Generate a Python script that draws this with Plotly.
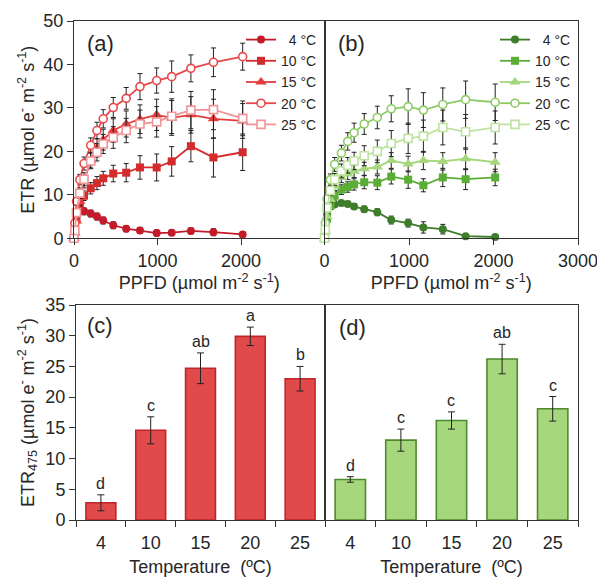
import plotly.graph_objects as go

W, H = 597, 579

# ---- light-response curves (ETR vs PPFD) ----
ppfd = [0, 10, 30, 70, 120, 200, 275, 350, 470, 625, 790, 990, 1170, 1400, 1670, 2020]
temp_labels = ["\u20074 °C", "10 °C", "15 °C", "20 °C", "25 °C"]

# red-light plants
red_4 = [0, 2.0, 5.5, 6.3, 6.2, 5.7, 5.0, 4.1, 3.0, 2.2, 1.8, 1.2, 1.3, 1.7, 1.4, 0.9]
red_4_err = [0, 0.3, 0.6, 0.7, 0.8, 0.8, 0.8, 0.8, 0.8, 0.7, 0.7, 0.7, 0.6, 0.7, 0.8, 0.5]
red_10 = [0, 1.5, 4.5, 7.5, 9.8, 11.5, 12.7, 13.8, 14.9, 15.1, 16.3, 16.3, 17.7, 21.2, 18.6, 19.8]
red_10_err = [0, 0.3, 0.6, 0.9, 1.1, 1.3, 1.5, 1.6, 1.9, 2.1, 2.7, 3.1, 3.4, 3.6, 4.5, 4.2]
red_15 = [0, 1.2, 4.0, 8.5, 13.0, 18.0, 20.8, 22.7, 24.8, 26.3, 27.4, 28.4, 27.7, 28.4, 27.5, 27.0]
red_15_err = [0, 0.3, 0.6, 1.0, 1.4, 1.8, 2.1, 2.4, 2.7, 3.0, 3.3, 3.6, 4.0, 4.2, 4.5, 4.0]
red_20 = [0, 3.5, 8.5, 13.5, 17.2, 21.4, 24.8, 27.5, 30.1, 32.2, 34.9, 36.3, 37.2, 39.1, 40.5, 41.8]
red_20_err = [0, 0.5, 0.9, 1.2, 1.5, 1.7, 1.9, 2.1, 2.3, 2.5, 3.0, 2.9, 3.6, 3.1, 3.3, 3.1]
red_25 = [0, 1.8, 5.9, 10.4, 13.6, 17.8, 19.8, 21.7, 23.2, 24.8, 26.3, 26.8, 28.1, 29.5, 29.6, 27.6]
red_25_err = [0, 0.4, 0.8, 1.2, 1.5, 1.8, 2.0, 2.2, 2.5, 2.8, 3.2, 3.5, 4.0, 4.3, 4.6, 4.0]

# green-light plants
green_4 = [0, 2.0, 5.5, 7.3, 7.8, 8.1, 7.9, 7.3, 6.7, 6.0, 4.2, 3.5, 2.5, 2.1, 0.5, 0.3]
green_4_err = [0, 0.3, 0.5, 0.6, 0.6, 0.6, 0.6, 0.6, 0.7, 0.8, 0.9, 0.9, 1.3, 1.1, 0.3, 0.3]
green_10 = [0, 1.5, 4.5, 7.5, 9.8, 11.2, 11.8, 12.4, 12.9, 12.8, 14.2, 13.5, 12.2, 14.0, 13.6, 14.0]
green_10_err = [0, 0.3, 0.6, 0.8, 1.0, 1.1, 1.2, 1.3, 1.5, 1.6, 1.7, 2.0, 1.5, 2.1, 2.4, 1.9]
green_15 = [0, 1.5, 5.0, 9.0, 12.0, 14.0, 14.8, 15.4, 16.0, 16.4, 17.9, 17.1, 17.9, 17.7, 18.3, 17.5]
green_15_err = [0, 0.3, 0.6, 0.9, 1.0, 1.2, 1.3, 1.4, 1.5, 1.6, 1.8, 1.8, 2.1, 2.0, 2.5, 2.2]
green_20 = [0, 3.5, 9.0, 13.5, 17.0, 19.6, 22.3, 24.3, 26.3, 27.8, 29.8, 30.3, 29.5, 30.8, 31.9, 31.3]
green_20_err = [0, 0.5, 1.0, 1.3, 1.6, 1.8, 2.0, 2.2, 2.4, 2.6, 3.0, 4.1, 4.0, 3.8, 4.3, 4.2]
green_25 = [0, 2.0, 7.0, 11.0, 13.5, 15.5, 16.8, 17.8, 19.0, 20.0, 21.8, 23.0, 23.5, 25.5, 24.5, 25.5]
green_25_err = [0, 0.4, 0.8, 1.2, 1.4, 1.6, 1.8, 2.0, 2.3, 2.6, 3.0, 3.5, 3.7, 4.0, 4.0, 3.8]

# ---- ETR at 475 µmol m-2 s-1 ----
bar_temps = ["4", "10", "15", "20", "25"]
etr475_red = [2.8, 14.6, 24.7, 29.9, 23.0]
etr475_red_err = [1.3, 2.2, 2.5, 1.5, 2.0]
letters_red = ["d", "c", "ab", "a", "b"]
etr475_green = [6.6, 13.0, 16.2, 26.2, 18.1]
etr475_green_err = [0.45, 1.8, 1.4, 2.4, 2.0]
letters_green = ["d", "c", "c", "ab", "c"]

FONT = "Liberation Sans, Arial, sans-serif"
TXT = "#262626"
AX = "#333333"

red_cols = ["#C41A2A", "#D42B2D", "#E23E3E", "#E8484A", "#F09497"]
green_cols = ["#3E7D2A", "#5BAE35", "#A6D77C", "#8DCB66", "#BEE3A0"]
symbols = ["circle", "square", "triangle-up", "circle", "square"]
open_marker = [False, False, False, True, True]


def px_x(p):
    return p / W


def px_y(p):
    return 1 - p / H


fig = go.Figure()

red_series = [(red_4, red_4_err), (red_10, red_10_err), (red_15, red_15_err),
              (red_20, red_20_err), (red_25, red_25_err)]
green_series = [(green_4, green_4_err), (green_10, green_10_err), (green_15, green_15_err),
                (green_20, green_20_err), (green_25, green_25_err)]

for series, cols, xa, ya, leg in [(red_series, red_cols, "x", "y", "legend"),
                                  (green_series, green_cols, "x2", "y2", "legend2")]:
    for i, (vals, errs) in enumerate(series):
        c = cols[i]
        size = 10 if symbols[i] == "triangle-up" else 8
        fig.add_trace(go.Scatter(
            x=ppfd, y=vals, xaxis=xa, yaxis=ya, legend=leg,
            name=temp_labels[i], mode="lines+markers",
            line=dict(color=c, width=1.8),
            marker=dict(symbol=symbols[i], size=size,
                        color="white" if open_marker[i] else c,
                        line=dict(color=c, width=1.6 if open_marker[i] else 0)),
            error_y=dict(type="data", array=errs, visible=True,
                         color="#222222", thickness=1, width=2.5),
            cliponaxis=False,
        ))

for vals, errs, letters, fill, edge, xa, ya in [
        (etr475_red, etr475_red_err, letters_red, "#E04A4A", "#C4232B", "x3", "y3"),
        (etr475_green, etr475_green_err, letters_green, "#A6D77C", "#4E8A2F", "x4", "y4")]:
    fig.add_trace(go.Bar(
        x=bar_temps, y=vals, xaxis=xa, yaxis=ya, width=0.6, showlegend=False,
        marker=dict(color=fill, line=dict(color=edge, width=1.6)),
        error_y=dict(type="data", array=errs, visible=True,
                     color="#222222", thickness=1, width=3.5),
    ))
    # significance letters sit just above each error bar (category index on x)
    for idx, (v, e, s) in enumerate(zip(vals, errs, letters)):
        fig.add_annotation(x=idx, y=v + e, xref=xa, yref=ya, text=s, showarrow=False,
                           yanchor="bottom", yshift=1,
                           font=dict(family=FONT, size=16, color=TXT))

top = [px_y(238.3), px_y(21)]
bot = [px_y(520), px_y(305)]

common = dict(showline=True, linecolor=AX, linewidth=1, mirror=True,
              showgrid=False, zeroline=False, ticks="outside", ticklen=6,
              tickcolor=AX, tickfont=dict(family=FONT, size=18, color=TXT),
              ticklabeloverflow="allow", automargin=False)

ppfd_title = dict(text="PPFD (µmol m<sup>-2</sup> s<sup>-1</sup>)",
                  font=dict(family=FONT, size=18, color=TXT), standoff=4)
temp_title = dict(text="Temperature  (ºC)",
                  font=dict(family=FONT, size=18, color=TXT), standoff=8)

fig.update_layout(
    width=W, height=H, margin=dict(l=0, r=0, t=0, b=0),
    paper_bgcolor="white", plot_bgcolor="white",
    font=dict(family=FONT, color=TXT),
    bargap=0.4,
    xaxis=dict(domain=[px_x(74), px_x(324.5)], anchor="y", range=[0, 3000],
               tickvals=[0, 1000, 2000, 3000], ticktext=["0", "1000", "2000", ""],
               title=ppfd_title, **common),
    yaxis=dict(domain=top, anchor="x", range=[0, 50], dtick=10,
               title=dict(text="ETR (µmol e<sup>-</sup> m<sup>-2</sup> s<sup>-1</sup>)",
                          font=dict(family=FONT, size=18, color=TXT), standoff=4),
               **common),
    xaxis2=dict(domain=[px_x(324.5), px_x(578)], anchor="y2", range=[0, 3000],
                tickvals=[0, 1000, 2000, 3000], title=ppfd_title, **common),
    yaxis2=dict(domain=top, anchor="x2", range=[0, 50], showticklabels=False,
                **{**common, "ticks": ""}),
    xaxis3=dict(domain=[px_x(76), px_x(325)], anchor="y3", type="category",
                range=[-0.5, 4.5], tickson="boundaries", ticklabelstandoff=6,
                title=temp_title, **common),
    yaxis3=dict(domain=bot, anchor="x3", range=[0, 35], dtick=5,
                title=dict(text="ETR<sub>475</sub> (µmol e<sup>-</sup> m<sup>-2</sup> s<sup>-1</sup>)",
                           font=dict(family=FONT, size=18, color=TXT), standoff=6),
                **common),
    xaxis4=dict(domain=[px_x(325), px_x(578)], anchor="y4", type="category",
                range=[-0.5, 4.5], tickson="boundaries", ticklabelstandoff=6,
                title=temp_title, **common),
    yaxis4=dict(domain=bot, anchor="x4", range=[0, 35], showticklabels=False,
                **{**common, "ticks": ""}),
    legend=dict(x=px_x(322), y=px_y(24), xanchor="right", yanchor="top",
                bgcolor="rgba(0,0,0,0)", itemwidth=30, tracegroupgap=0,
                font=dict(family=FONT, size=14, color=TXT)),
    legend2=dict(x=px_x(576), y=px_y(24), xanchor="right", yanchor="top",
                 bgcolor="rgba(0,0,0,0)", itemwidth=30, tracegroupgap=0,
                 font=dict(family=FONT, size=14, color=TXT)),
)

for label, x, y in [("(a)", 100, 44), ("(b)", 351, 44), ("(c)", 100, 325), ("(d)", 352, 327)]:
    fig.add_annotation(x=px_x(x), y=px_y(y), xref="paper", yref="paper", text=label,
                       showarrow=False, xanchor="center", yanchor="middle",
                       font=dict(family=FONT, size=22, color=TXT))

fig.write_html("out.html")
